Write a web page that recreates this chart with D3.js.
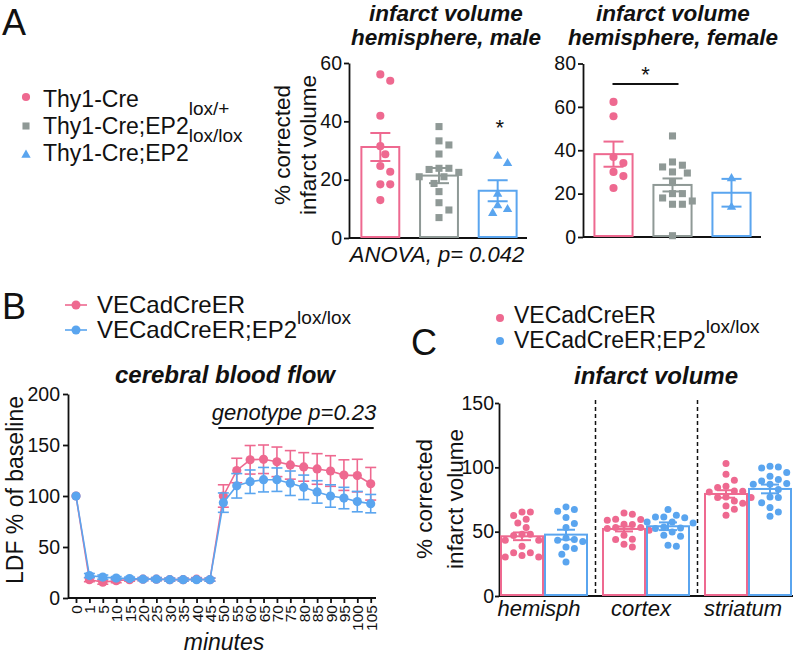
<!DOCTYPE html>
<html><head><meta charset="utf-8">
<script src="https://cdn.jsdelivr.net/npm/d3@7/dist/d3.min.js"></script>
<style>
html,body{margin:0;padding:0;background:#fff;}
svg text{font-family:"Liberation Sans",Arial,Helvetica,sans-serif;fill:#111;}
</style></head><body>
<svg id="fig" width="793" height="660" xmlns="http://www.w3.org/2000/svg"></svg>
<script>
// ---------------- DATA ----------------
// Panel A
const legendA = ["Thy1-Cre", "Thy1-Cre;EP2", "Thy1-Cre;EP2"];
const legendASup = ["", "lox/+", "lox/lox"];
const maleMean = [31.2, 21.4, 16.2];
const maleSem = [4.8, 2.6, 3.6];
const malePink = [56.1, 53.9, 41.9, 31.5, 28.7, 24.7, 22.7, 18.4, 18.4, 13.0];
const maleGray = [38.2, 33.3, 31.9, 28.8, 23.9, 23.5, 23.9, 22.5, 21.0, 21.0, 18.7, 15.9, 12.1, 9.6, 7.0];
const maleBlue = [28.1, 25.6, 15.1, 11.1, 9.8, 8.5];
const femaleMean = [38.2, 24.0, 20.4];
const femaleSem = [5.8, 3.0, 6.4];
const femalePink = [62.3, 55.7, 36.9, 34.1, 30.0, 28.1, 22.6];
const femaleGray = [46.6, 34.6, 33.1, 32.3, 30.0, 29.5, 25.1, 20.0, 20.0, 18.0, 16.6, 15.1, 15.1, 0.6];
const femaleBlue = [27.0, 13.8];
const maleTicks = [0, 20, 40, 60];
const femaleTicks = [0, 20, 40, 60, 80];

// Panel B
const legendBC = ["VECadCreER", "VECadCreER;EP2"];
const legendBCSup = ["", "lox/lox"];
const minutes = [0,1,5,10,15,20,25,30,35,40,45,50,55,60,65,70,75,80,85,90,95,100,105];
const cbfCtrl = [100, 18, 15.5, 17, 18, 18.5, 18.5, 18, 18, 18.5, 18, 100, 125, 135.5, 136, 133.5, 130.5, 128.5, 126.5, 124.5, 120.5, 120, 112];
const cbfCtrlSem = [0, 2, 2, 2, 1.5, 1.5, 1.5, 1.5, 1.5, 1.5, 1.5, 11, 12, 14, 14, 14.5, 14, 14, 15, 15, 15, 16, 16];
const cbfKo = [100, 22, 20.5, 19.5, 19, 18.5, 18.5, 18, 18, 18, 18, 93.5, 110, 114, 116, 116, 112.5, 108.5, 104, 100, 98, 94.5, 92.5];
const cbfKoSem = [0, 2, 2, 1.5, 1.5, 1.5, 1.5, 1.5, 1.5, 1.5, 1.5, 9.5, 12, 11.5, 12, 11.5, 12, 12, 11, 11, 10.5, 10, 9];
const cbfTicks = [0, 50, 100, 150, 200];

// Panel C
const regions = ["hemisph", "cortex", "striatum"];
const ivCtrlMean = [46.4, 52.1, 79.3];
const ivCtrlSem = [3.0, 1.9, 2.9];
const ivKoMean = [47.7, 54.2, 83.2];
const ivKoSem = [3.8, 3.0, 3.4];
const ivCtrlPts = [
  [65.3, 65.3, 62.5, 59.6, 56.8, 53.2, 48, 48, 47, 43.3, 43.3, 38.6, 33.7, 33.7, 30.3, 30.3, 31.5],
  [64.5, 63.5, 58.9, 59.7, 59.4, 55.8, 55.5, 53.2, 53.2, 52.4, 51.1, 47.2, 43.9, 44.1, 40.2, 38.1],
  [102.9, 94.6, 90, 84.3, 85.3, 81.4, 81.7, 80.9, 77, 76.5, 76.5, 73.9, 70, 72, 67.4, 62.8]
];
const ivKoPts = [
  [69.2, 65.9, 67.2, 61, 56.3, 53.2, 43.3, 42.3, 44, 45, 38.1, 36.9, 32.4, 26.4],
  [67.2, 62.8, 61.4, 60.9, 61.4, 57.5, 57.5, 56.8, 52.9, 52.4, 53.6, 49.8, 47.2, 46.4, 38.6, 39.4],
  [100.3, 100.9, 99.5, 96, 93.1, 90.5, 89.4, 86.9, 86.9, 87.4, 82.7, 76.5, 77, 72.4, 68.7, 65.3, 62]
];
const ivTicks = [0, 50, 100, 150];

// ---------------- DRAWING ----------------
const svg = d3.select("#fig");
const PINK = "#ee6990", GRAY = "#8f9996", BLUE = "#5aa5ef", INK = "#111";
const FONT = '"Liberation Sans", Arial, Helvetica, sans-serif';

function txt(x, y, s, size, o = {}) {
  const t = svg.append("text").attr("x", x).attr("y", y).attr("font-size", size).text(s);
  if (o.anchor) t.attr("text-anchor", o.anchor);
  if (o.weight) t.attr("font-weight", o.weight);
  if (o.style) t.attr("font-style", o.style);
  if (o.rotate) t.attr("transform", `rotate(-90,${x},${y})`);
  return t;
}
function supText(x, y, base, sup, size, supSize, dy) {
  const t = svg.append("text").attr("x", x).attr("y", y).attr("font-size", size);
  t.append("tspan").text(base);
  if (sup) t.append("tspan").attr("dy", dy).attr("font-size", supSize).text(sup);
  return t;
}
function styleAxis(g, fs) {
  g.attr("font-family", FONT).attr("font-size", fs);
  g.selectAll("path.domain").attr("stroke", INK).attr("stroke-width", 1.8);
  g.selectAll(".tick line").attr("stroke", INK).attr("stroke-width", 1.8);
  g.selectAll(".tick text").attr("fill", INK);
}
function swarm(vals, y, cx, d) {
  const pts = vals.map(v => ({ v, py: y(v) })).sort((a, b) => a.py - b.py);
  const placed = [];
  for (const p of pts) {
    let px = cx;
    for (let k = 0; k < 60; k++) {
      const off = (k === 0 ? 0 : (k % 2 ? 1 : -1) * Math.ceil(k / 2)) * d * 0.55;
      const x = cx + off;
      if (placed.every(q => Math.hypot(q.px - x, q.py - p.py) >= d)) { px = x; break; }
    }
    p.px = px; placed.push(p);
  }
  return placed;
}
const symCircle = d3.symbol().type(d3.symbolCircle).size(52)();
const symSquare = d3.symbol().type(d3.symbolSquare).size(50)();
const symTri = d3.symbol().type(d3.symbolTriangle).size(38)();

// Panel letters
txt(2, 35, "A", 36);
txt(2, 319, "B", 36);
txt(411, 355, "C", 36);

// ---- Panel A legend ----
const legShapes = [symCircle, symSquare, symTri];
const legColors = [PINK, GRAY, BLUE];
legendA.forEach((lab, i) => {
  const cy = 97 + i * 29;
  svg.append("path").attr("d", legShapes[i]).attr("transform", `translate(26,${cy})`).attr("fill", legColors[i]);
  supText(43, 107 + i * 27, lab, legendASup[i], 23, 19, -19);
});

// ---- Panel A bar charts ----
function barPanel(o) {
  const y = d3.scaleLinear().domain([0, o.max]).range([o.y0, o.y1]);
  const x = d3.scaleBand().domain([0, 1, 2]).range(o.xr).paddingInner(0.32).paddingOuter(0.16);
  const gy = svg.append("g").attr("transform", `translate(${o.ax},0)`)
    .call(d3.axisLeft(y).tickValues(o.ticks).tickSize(5).tickPadding(2).tickSizeOuter(0));
  styleAxis(gy, 19.5);
  svg.append("line").attr("x1", o.ax).attr("x2", o.xr[1]).attr("y1", y(0)).attr("y2", y(0))
    .attr("stroke", INK).attr("stroke-width", 1.8);
  const bw = x.bandwidth();
  o.means.forEach((m, i) => {
    svg.append("rect").attr("x", x(i) + 1).attr("y", y(m)).attr("width", bw - 2).attr("height", y(0) - y(m) - 1)
      .attr("fill", "none").attr("stroke", legColors[i]).attr("stroke-width", 2);
    const cx = x(i) + bw / 2, s = o.sems[i];
    const eg = svg.append("g").attr("stroke", legColors[i]).attr("stroke-width", 2);
    eg.append("line").attr("x1", cx).attr("x2", cx).attr("y1", y(m - s)).attr("y2", y(m + s));
    eg.append("line").attr("x1", cx - 10).attr("x2", cx + 10).attr("y1", y(m + s)).attr("y2", y(m + s));
    eg.append("line").attr("x1", cx - 10).attr("x2", cx + 10).attr("y1", y(m - s)).attr("y2", y(m - s));
    swarm(o.pts[i], y, cx, 9).forEach(p => {
      svg.append("path").attr("d", legShapes[i]).attr("transform", `translate(${p.px},${p.py})`).attr("fill", legColors[i]);
    });
  });
  return { x, y };
}
const male = barPanel({ max: 60, y0: 238, y1: 63, ax: 349, xr: [351, 527], ticks: maleTicks,
  means: maleMean, sems: maleSem, pts: [malePink, maleGray, maleBlue] });
const female = barPanel({ max: 80, y0: 237, y1: 63.5, ax: 583, xr: [584, 761], ticks: femaleTicks,
  means: femaleMean, sems: femaleSem, pts: [femalePink, femaleGray, femaleBlue] });

// titles A
txt(446, 21, "infarct volume", 22.5, { anchor: "middle", weight: "bold", style: "italic" });
txt(446, 45, "hemisphere, male", 22.5, { anchor: "middle", weight: "bold", style: "italic" });
txt(673, 21, "infarct volume", 22.5, { anchor: "middle", weight: "bold", style: "italic" });
txt(673, 45, "hemisphere, female", 22.5, { anchor: "middle", weight: "bold", style: "italic" });
// y label male
txt(290, 145, "% corrected", 22.5, { anchor: "middle", rotate: true });
txt(316, 145, "infarct volume", 22.5, { anchor: "middle", rotate: true });
// ANOVA
txt(437, 262, "ANOVA, p= 0.042", 22, { anchor: "middle", style: "italic" });
// significance
txt(male.x(2) + male.x.bandwidth() / 2 + 2, 135, "*", 22, { anchor: "middle" });
const fx1 = female.x(0) + female.x.bandwidth() / 2 - 1, fx2 = female.x(1) + female.x.bandwidth() / 2 + 6;
svg.append("line").attr("x1", fx1).attr("x2", fx2).attr("y1", 84).attr("y2", 84).attr("stroke", INK).attr("stroke-width", 2);
txt((fx1 + fx2) / 2, 82, "*", 22, { anchor: "middle" });

// ---- Panel B ----
legendBC.forEach((lab, i) => {
  const cy = 305 + i * 25, col = i ? BLUE : PINK;
  svg.append("line").attr("x1", 65).attr("x2", 87).attr("y1", cy).attr("y2", cy).attr("stroke", col).attr("stroke-width", 1.6);
  svg.append("circle").attr("cx", 76).attr("cy", cy).attr("r", 4.5).attr("fill", col);
  supText(97, 313 + i * 25, lab, legendBCSup[i], 24, 19, -14);
});
const xB = d3.scalePoint().domain(minutes.map(String)).range([76, 370.7]);
const yB = d3.scaleLinear().domain([0, 200]).range([598, 394]);
const gyB = svg.append("g").attr("transform", "translate(68,0)")
  .call(d3.axisLeft(yB).tickValues(cbfTicks).tickSize(5).tickPadding(3).tickSizeOuter(0));
styleAxis(gyB, 19.5);
const gxB = svg.append("g").attr("transform", `translate(0,${yB(0)})`)
  .call(d3.axisBottom(xB).tickSize(5).tickSizeOuter(0));
styleAxis(gxB, 15.5);
gxB.select("path.domain").attr("d", `M68,0H376`);
gxB.selectAll(".tick text").attr("transform", "rotate(-90)").attr("text-anchor", "end")
  .attr("x", -7).attr("y", 0).attr("dy", "0.36em");
function series(vals, sems, col) {
  const g = svg.append("g");
  const line = d3.line().x((d, i) => xB(String(minutes[i]))).y(d => yB(d));
  g.append("path").attr("d", line(vals)).attr("fill", "none").attr("stroke", col).attr("stroke-width", 1.6);
  vals.forEach((v, i) => {
    const cx = xB(String(minutes[i])), s = sems[i];
    if (s > 0) {
      g.append("line").attr("x1", cx).attr("x2", cx).attr("y1", yB(v - s)).attr("y2", yB(v + s)).attr("stroke", col).attr("stroke-width", 1.6);
      [v - s, v + s].forEach(e => g.append("line").attr("x1", cx - 5.5).attr("x2", cx + 5.5).attr("y1", yB(e)).attr("y2", yB(e)).attr("stroke", col).attr("stroke-width", 1.6));
    }
    g.append("circle").attr("cx", cx).attr("cy", yB(v)).attr("r", 4.6).attr("fill", col);
  });
}
series(cbfCtrl, cbfCtrlSem, PINK);
series(cbfKo, cbfKoSem, BLUE);
txt(23, 490, "LDF % of baseline", 23, { anchor: "middle", rotate: true });
txt(225, 383, "cerebral blood flow", 24, { anchor: "middle", weight: "bold", style: "italic" });
txt(294, 420, "genotype p=0.23", 22, { anchor: "middle", style: "italic" });
svg.append("line").attr("x1", xB("50") - 5).attr("x2", xB("105") + 3).attr("y1", 428).attr("y2", 428).attr("stroke", INK).attr("stroke-width", 2);
txt(224, 650, "minutes", 23, { anchor: "middle", style: "italic" });

// ---- Panel C ----
legendBC.forEach((lab, i) => {
  svg.append("circle").attr("cx", 500).attr("cy", 318 + i * 23).attr("r", 4).attr("fill", i ? BLUE : PINK);
  supText(514, 323 + i * 25, lab, legendBCSup[i], 23, 19, -15);
});
const xC = d3.scaleBand().domain(regions).range([493, 799]);
const xSub = d3.scaleBand().domain([0, 1]).range([7, 95]);
const yC = d3.scaleLinear().domain([0, 150]).range([596, 403]);
const gyC = svg.append("g").attr("transform", "translate(499,0)")
  .call(d3.axisLeft(yC).tickValues(ivTicks).tickSize(4).tickPadding(1).tickSizeOuter(0));
styleAxis(gyC, 19.5);
svg.append("line").attr("x1", 499).attr("x2", 793).attr("y1", yC(0)).attr("y2", yC(0)).attr("stroke", INK).attr("stroke-width", 1.8);
regions.slice(1).forEach(r => {
  svg.append("line").attr("x1", xC(r) + 0.5).attr("x2", xC(r) + 0.5).attr("y1", yC(150) - 3).attr("y2", yC(0))
    .attr("stroke", INK).attr("stroke-width", 1.5).attr("stroke-dasharray", "4,3");
});
const cSets = [[ivCtrlMean, ivCtrlSem, ivCtrlPts, PINK], [ivKoMean, ivKoSem, ivKoPts, BLUE]];
regions.forEach((r, gi) => {
  cSets.forEach(([means, sems, pts, col], si) => {
    const bx = xC(r) + xSub(si) + 1, bw = xSub.bandwidth() - 2, cx = bx + bw / 2;
    const m = means[gi], s = sems[gi];
    svg.append("rect").attr("x", bx).attr("y", yC(m)).attr("width", bw).attr("height", yC(0) - yC(m) - 1)
      .attr("fill", "none").attr("stroke", col).attr("stroke-width", 2);
    const eg = svg.append("g").attr("stroke", col).attr("stroke-width", 2);
    eg.append("line").attr("x1", cx).attr("x2", cx).attr("y1", yC(m - s)).attr("y2", yC(m + s));
    [m - s, m + s].forEach(e => eg.append("line").attr("x1", cx - 9).attr("x2", cx + 9).attr("y1", yC(e)).attr("y2", yC(e)));
    swarm(pts[gi], yC, cx, 7.6).forEach(p => {
      svg.append("circle").attr("cx", p.px).attr("cy", p.py).attr("r", 3.5).attr("fill", col);
    });
  });
  txt(xC(r) + xC.bandwidth() / 2 - 5, 616, r, 22, { anchor: "middle", style: "italic" });
});
txt(432, 499, "% corrected", 22.5, { anchor: "middle", rotate: true });
txt(463, 499, "infarct volume", 22.5, { anchor: "middle", rotate: true });
txt(656, 384, "infarct volume", 24, { anchor: "middle", weight: "bold", style: "italic" });
</script>
</body></html>
